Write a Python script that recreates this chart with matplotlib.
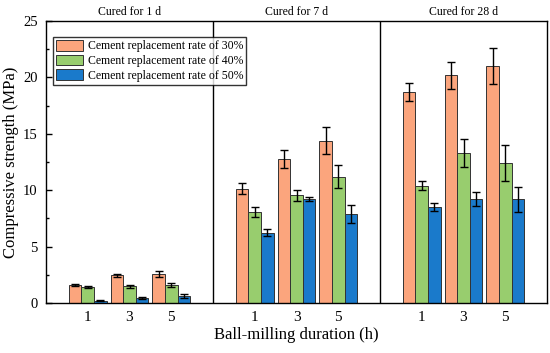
import matplotlib
matplotlib.use("Agg")
import matplotlib.pyplot as plt
import numpy as np
from matplotlib.ticker import MultipleLocator

plt.rcParams['font.family'] = ['Liberation Serif', 'DejaVu Serif']

panels = ["Cured for 1 d", "Cured for 7 d", "Cured for 28 d"]
durations = ["1", "3", "5"]
series = ["Cement replacement rate of 30%", "Cement replacement rate of 40%", "Cement replacement rate of 50%"]
colors = ["#FBA57D", "#98CD6E", "#1A7ACB"]

# values[panel][duration] for each series
r30 = [[1.6, 2.45, 2.6], [10.15, 12.75, 14.4], [18.7, 20.2, 21.05]]
r40 = [[1.42, 1.47, 1.6], [8.05, 9.55, 11.2], [10.4, 13.3, 12.4]]
r50 = [[0.2, 0.43, 0.6], [6.25, 9.2, 7.9], [8.5, 9.2, 9.2]]
e30 = [[0.1, 0.15, 0.27], [0.5, 0.8, 1.2], [0.8, 1.2, 1.6]]
e40 = [[0.05, 0.15, 0.2], [0.45, 0.5, 1.0], [0.4, 1.2, 1.6]]
e50 = [[0.03, 0.07, 0.2], [0.3, 0.18, 0.8], [0.38, 0.6, 1.1]]

vals = [r30, r40, r50]
errs = [e30, e40, e50]

fig = plt.figure(figsize=(5.5, 3.53), dpi=100)
ax = fig.add_axes([46/550, 1-303/353, 501/550, 282/353])

w = 0.3
xc = np.array([4*p + 1 + g for p in range(3) for g in range(3)], dtype=float)
for s in range(3):
    y = np.array(vals[s]).ravel()
    e = np.array(errs[s]).ravel()
    ax.bar(xc + (s-1)*w, y, width=w, color=colors[s], edgecolor="#333333",
           linewidth=0.7, label=series[s], zorder=2)
    ax.errorbar(xc + (s-1)*w, y, yerr=e, fmt='none', ecolor='black',
                elinewidth=1.0, capsize=3, capthick=1.0, zorder=3)

ax.set_xlim(0, 12)
ax.set_ylim(0, 25)
for xv in [4, 8]:
    ax.axvline(xv, color='black', linewidth=1.0, zorder=4)

ax.set_xticks(xc)
ax.set_xticklabels(durations * 3)
ax.yaxis.set_major_locator(MultipleLocator(5))
ax.yaxis.set_minor_locator(MultipleLocator(2.5))
ax.tick_params(axis='x', direction='in', length=4, width=1, labelsize=11, pad=6, top=False)
ax.tick_params(axis='y', which='major', direction='in', length=4, width=1, labelsize=10.5, pad=6, right=False)
ax.tick_params(axis='y', which='minor', direction='in', length=2.5, width=1, right=False)
for sp in ax.spines.values():
    sp.set_linewidth(1.0)
    sp.set_zorder(5)

ax.set_xlabel("Ball-milling duration (h)", fontsize=12, labelpad=2)
ax.set_ylabel("Compressive strength (MPa)", fontsize=12, labelpad=3)

for p, name in enumerate(panels):
    ax.text(4*p + 2, 1 + 9/282, name, transform=ax.get_xaxis_transform(),
            ha='center', va='center', fontsize=8.5)

leg = ax.legend(loc='upper left', bbox_to_anchor=(7/501, 1-16/282), borderaxespad=0,
                fontsize=8.5, frameon=True, fancybox=False, edgecolor='black',
                handlelength=2.3, handleheight=1.0, labelspacing=0.2,
                borderpad=0.25, handletextpad=0.4)
leg.get_frame().set_linewidth(1.0)
leg.set_zorder(6)

fig.savefig("out.png", dpi=100)
